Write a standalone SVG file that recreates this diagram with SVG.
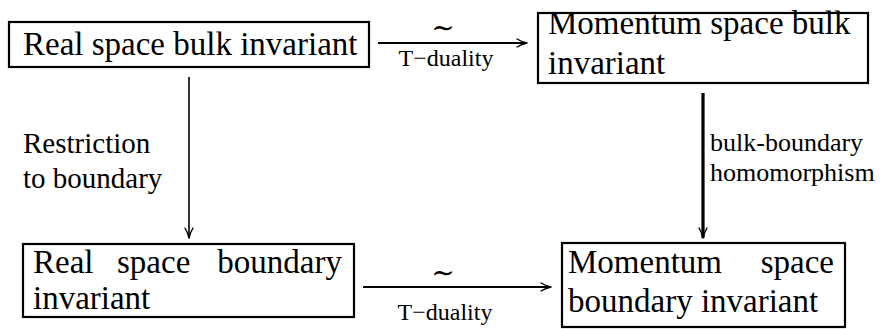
<svg xmlns="http://www.w3.org/2000/svg" width="896" height="329" viewBox="0 0 896 329">
<defs>
<style>
.box{fill:#fff;stroke:#000;stroke-width:2.2}
.t{font-size:33px;fill:#000}
.l{font-size:29px;fill:#000}
.r{font-size:26px;fill:#000}
.s{font-size:24px;fill:#000}
.tl{font-size:28px;fill:#000}
.c{fill:none;stroke:#000}
.h{fill:none;stroke:#000;stroke-width:1.4;stroke-linecap:round;stroke-linejoin:round}
</style>
<marker id="ah" viewBox="0 0 12 10" refX="11" refY="5" markerWidth="12" markerHeight="10" markerUnits="userSpaceOnUse" orient="auto">
<path d="M1,1 Q6,4 11,5 Q6,6 1,9" class="h"/>
</marker>
</defs>
<g font-family="Liberation Serif, DejaVu Serif, serif">
<g id="connectors">
<line class="c" x1="378" y1="43" x2="527" y2="43" stroke-width="2" marker-end="url(#ah)"/>
<line class="c" x1="363" y1="287" x2="551" y2="287" stroke-width="2" marker-end="url(#ah)"/>
<line class="c" x1="189" y1="77" x2="189" y2="238" stroke-width="1.6" marker-end="url(#ah)"/>
<line class="c" x1="703" y1="93" x2="703" y2="238" stroke-width="3.2" marker-end="url(#ah)"/>
<text class="tl" x="443" y="37" text-anchor="middle">∼</text>
<text class="s" x="446" y="66" text-anchor="middle">T−duality</text>
<text class="tl" x="443" y="282" text-anchor="middle">∼</text>
<text class="s" x="445" y="320" text-anchor="middle">T−duality</text>
<text class="l" x="23" y="153">Restriction</text>
<text class="l" x="23" y="188">to boundary</text>
<text class="r" x="710" y="151">bulk-boundary</text>
<text class="r" x="710" y="181">homomorphism</text>
</g>
<g id="real-bulk">
<rect class="box" x="9" y="22" width="360" height="45"/>
<text class="t" x="23" y="55">Real space bulk invariant</text>
</g>
<g id="momentum-bulk">
<rect class="box" x="538" y="13" width="330" height="70"/>
<text class="t" x="548" y="34">Momentum space bulk</text>
<text class="t" x="548" y="74">invariant</text>
</g>
<g id="real-boundary">
<rect class="box" x="23" y="244" width="331" height="73"/>
<text class="t" x="33" y="273">Real</text>
<text class="t" x="117" y="273">space</text>
<text class="t" x="342" y="273" text-anchor="end">boundary</text>
<text class="t" x="33" y="309">invariant</text>
</g>
<g id="momentum-boundary">
<rect class="box" x="562" y="243" width="283" height="84"/>
<text class="t" x="568" y="273">Momentum</text>
<text class="t" x="834" y="273" text-anchor="end">space</text>
<text class="t" x="568" y="312">boundary invariant</text>
</g>
</g>
</svg>
